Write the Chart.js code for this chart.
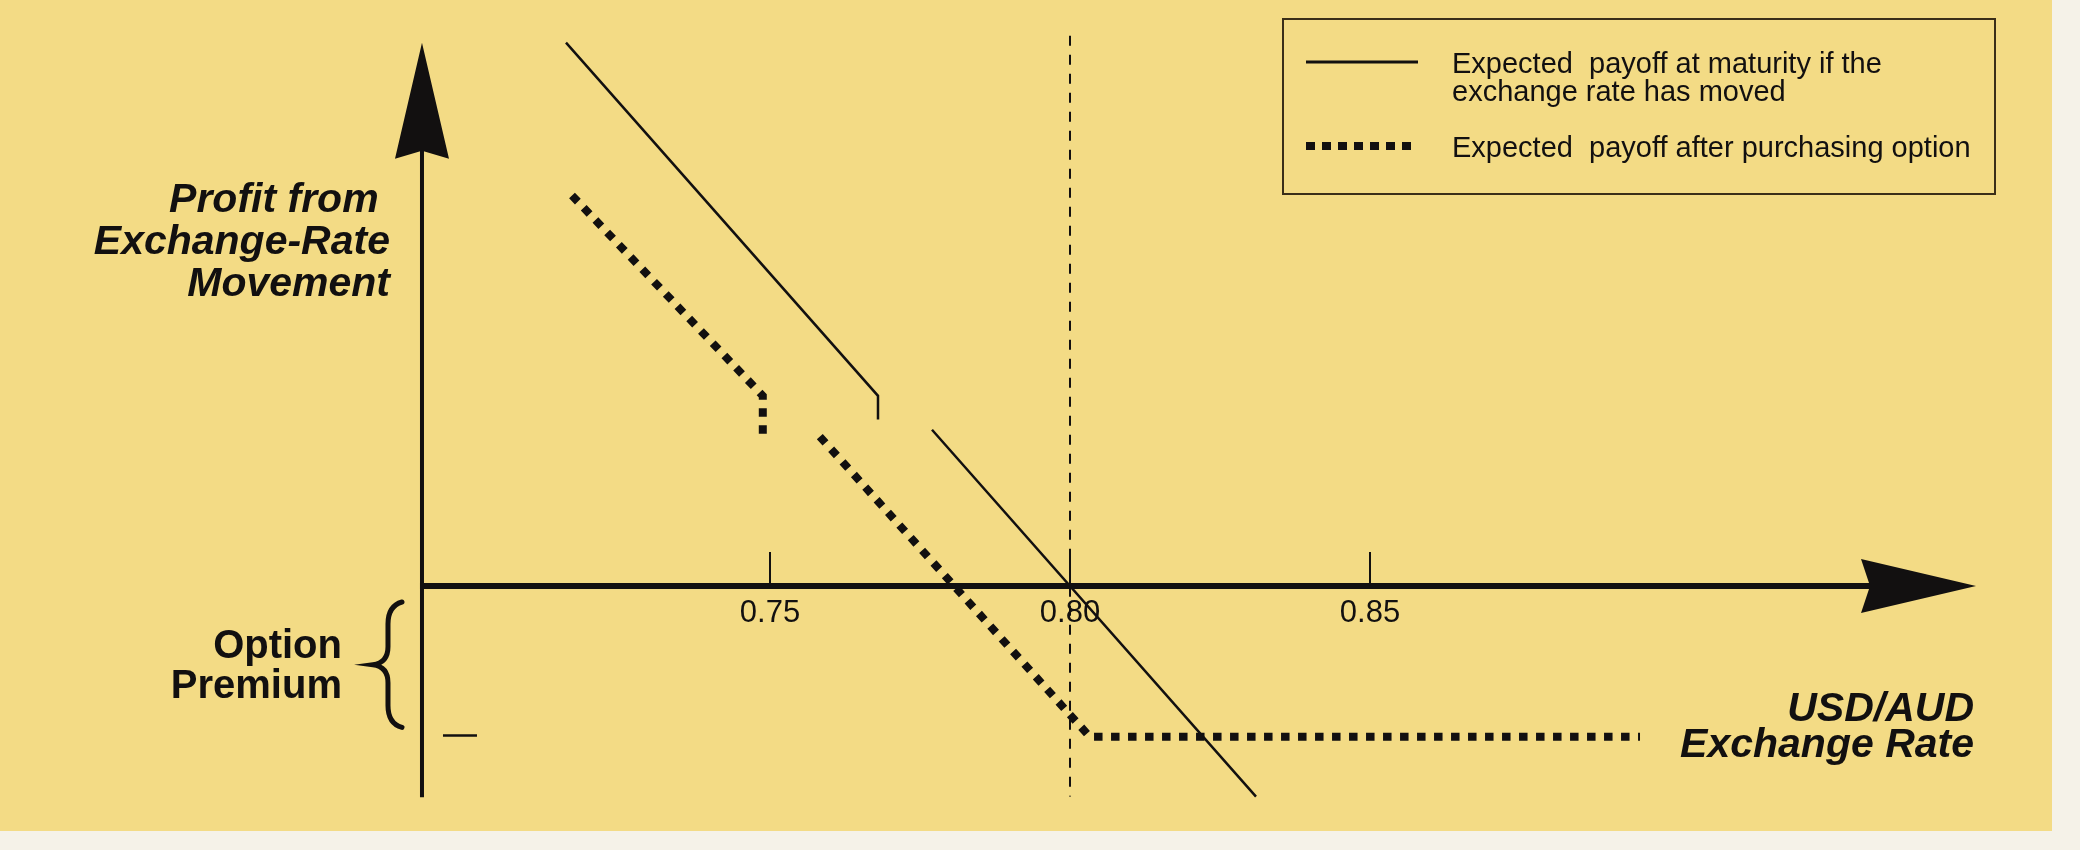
<!DOCTYPE html>
<html><head><meta charset="utf-8">
<script src="https://cdn.jsdelivr.net/npm/chart.js@4.4.1/dist/chart.umd.min.js"></script>
<style>html,body{margin:0;padding:0;background:#f5f2e8;}canvas{display:block;}</style>
</head><body>
<div style="width:2080px;height:850px"><canvas id="c" width="2080" height="850"></canvas></div>
<script>
// ---- data ----
const tickValues = [0.75, 0.80, 0.85];
const tickLabels = ["0.75", "0.80", "0.85"];
const payoffMovedX = [0.716, 0.768, 0.768, 0.772, 0.777, 0.831];
const payoffMovedY = [8.0, 2.8, 2.45, null, 2.3, -3.1];
const payoffOptionX = [0.717, 0.7488, 0.7488, 0.753, 0.7583, 0.8033, 0.895];
const payoffOptionY = [5.75, 2.8, 2.2, null, 2.2, -2.22, -2.22];
const strikeX = [0.80, 0.80];
const strikeY = [8.1, -3.1];
const optionPremium = -2.2;
const xAxisRange = [0.692, 0.951];
const yAxisRange = [-3.11, 8.0];
const seriesLabels = [
  ["Expected  payoff at maturity if the", "exchange rate has moved"],
  ["Expected  payoff after purchasing option"]
];
const yTitleLines = ["Profit from ", "Exchange-Rate", "Movement"];
const xTitleLines = ["USD/AUD", "Exchange Rate"];
const premiumLines = ["Option", "Premium"];

const pts = (xs, ys) => xs.map((x, i) => ({x: x, y: ys[i]}));

const INK = '#121010';
const BG = '#f3db85';
const FONT = '"Liberation Sans", Arial, Helvetica, sans-serif';

const drawPlugin = {
  id: 'schematic',
  beforeDraw(chart) {
    const ctx = chart.ctx;
    ctx.save();
    ctx.fillStyle = '#f5f2e8';
    ctx.fillRect(0, 0, chart.width, chart.height);
    ctx.fillStyle = BG;
    ctx.fillRect(0, 0, 2052, 831);
    ctx.restore();
  },
  beforeDatasetsDraw(chart) {
    const ctx = chart.ctx;
    const xs = chart.scales.x, ys = chart.scales.y;
    const ax = xs.getPixelForValue(xAxisRange[0]);
    const axEnd = xs.getPixelForValue(xAxisRange[1]);
    const ay = ys.getPixelForValue(0);
    const yTop = ys.getPixelForValue(yAxisRange[1]);
    const yBot = ys.getPixelForValue(yAxisRange[0]);
    ctx.save();
    ctx.strokeStyle = INK; ctx.fillStyle = INK;
    // y axis
    ctx.lineWidth = 4;
    ctx.beginPath(); ctx.moveTo(ax, yBot); ctx.lineTo(ax, yTop + 100); ctx.stroke();
    ctx.beginPath();
    ctx.moveTo(ax, yTop);
    ctx.lineTo(ax + 27, yTop + 116);
    ctx.lineTo(ax, yTop + 108);
    ctx.lineTo(ax - 27, yTop + 116);
    ctx.closePath(); ctx.fill();
    // x axis
    ctx.lineWidth = 6;
    ctx.beginPath(); ctx.moveTo(ax - 2, ay); ctx.lineTo(axEnd - 100, ay); ctx.stroke();
    ctx.beginPath();
    ctx.moveTo(axEnd, ay);
    ctx.lineTo(axEnd - 115, ay - 27);
    ctx.lineTo(axEnd - 106, ay);
    ctx.lineTo(axEnd - 115, ay + 27);
    ctx.closePath(); ctx.fill();
    // ticks + labels
    ctx.lineWidth = 2;
    ctx.font = '31px ' + FONT;
    ctx.textAlign = 'center'; ctx.textBaseline = 'alphabetic';
    tickValues.forEach((v, i) => {
      const px = xs.getPixelForValue(v);
      ctx.beginPath(); ctx.moveTo(px, ay); ctx.lineTo(px, ay - 34); ctx.stroke();
      ctx.fillText(tickLabels[i], px, ay + 36);
    });
    // premium marker on y axis
    const py = ys.getPixelForValue(optionPremium);
    ctx.lineWidth = 2.5;
    ctx.beginPath(); ctx.moveTo(ax + 21, py); ctx.lineTo(ax + 55, py); ctx.stroke();
    // brace
    const bTop = ay + 16, bBot = py - 8, bMid = (bTop + bBot) / 2;
    const bx = ax - 36;
    ctx.lineWidth = 5; ctx.lineCap = 'round';
    ctx.beginPath();
    ctx.moveTo(bx + 16, bTop);
    ctx.quadraticCurveTo(bx + 2, bTop + 4, bx + 2, bTop + 22);
    ctx.lineTo(bx + 2, bMid - 18);
    ctx.quadraticCurveTo(bx + 2, bMid - 2, bx - 13, bMid);
    ctx.quadraticCurveTo(bx + 2, bMid + 2, bx + 2, bMid + 18);
    ctx.lineTo(bx + 2, bBot - 22);
    ctx.quadraticCurveTo(bx + 2, bBot - 4, bx + 16, bBot);
    ctx.stroke();
    // titles
    ctx.textAlign = 'right';
    ctx.font = 'italic bold 41px ' + FONT;
    yTitleLines.forEach((t, i) => ctx.fillText(t, ax - 32, 212 + i * 42));
    xTitleLines.forEach((t, i) => ctx.fillText(t, axEnd - 2, 721 + i * 36));
    ctx.font = 'bold 40px ' + FONT;
    premiumLines.forEach((t, i) => ctx.fillText(t, ax - 80, 658 + i * 40));
    // legend
    ctx.lineWidth = 2; ctx.strokeStyle = '#3a2e18'; ctx.lineCap = 'butt';
    ctx.strokeRect(1283, 19, 712, 175);
    ctx.strokeStyle = INK;
    ctx.lineWidth = 3;
    ctx.beginPath(); ctx.moveTo(1306, 62); ctx.lineTo(1418, 62); ctx.stroke();
    ctx.lineWidth = 8; ctx.setLineDash([9, 7]);
    ctx.beginPath(); ctx.moveTo(1306, 146); ctx.lineTo(1418, 146); ctx.stroke();
    ctx.setLineDash([]);
    ctx.textAlign = 'left';
    ctx.font = '29px ' + FONT;
    seriesLabels[0].forEach((t, i) => ctx.fillText(t, 1452, 73 + i * 28));
    seriesLabels[1].forEach((t, i) => ctx.fillText(t, 1452, 157 + i * 28));
    ctx.restore();
  }
};

new Chart(document.getElementById('c'), {
  type: 'line',
  data: {
    datasets: [
      { label: seriesLabels[0].join(' '), data: pts(payoffMovedX, payoffMovedY),
        borderColor: INK, borderWidth: 2.5, pointRadius: 0, spanGaps: false, tension: 0 },
      { label: seriesLabels[1].join(' '), data: pts(payoffOptionX, payoffOptionY),
        borderColor: INK, borderWidth: 8, borderDash: [8.5, 8.5], borderCapStyle: 'butt',
        pointRadius: 0, spanGaps: false, tension: 0 },
      { label: 'Strike', data: pts(strikeX, strikeY),
        borderColor: INK, borderWidth: 2, borderDash: [10, 9], pointRadius: 0 }
    ]
  },
  options: {
    responsive: false, devicePixelRatio: 1, animation: false,
    layout: { padding: 0 },
    scales: {
      x: { type: 'linear', min: 0.62167, max: 0.96833, display: false },
      y: { type: 'linear', min: -3.887, max: 8.628, display: false }
    },
    plugins: { legend: { display: false }, tooltip: { enabled: false } }
  },
  plugins: [drawPlugin]
});
</script>
</body></html>
